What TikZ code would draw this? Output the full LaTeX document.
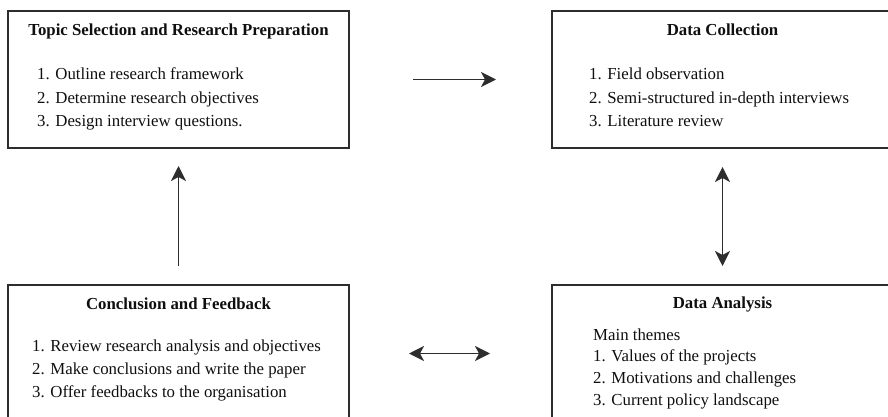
\documentclass[tikz,border=0pt]{standalone}
\usepackage{fontspec}
\setmainfont{Liberation Serif}
\usetikzlibrary{arrows.meta}
\definecolor{boxline}{RGB}{45,45,45}
\definecolor{inktext}{RGB}{15,15,15}

\tikzset{
  stagebox/.style={draw=boxline,line width=2pt,minimum width=341pt,minimum height=137pt,inner sep=0pt,anchor=north west},
  stagehead/.style={font=\fontsize{16.8}{20}\selectfont\bfseries,text=inktext,inner sep=0pt,anchor=base},
  stageitem/.style={font=\fontsize{16.8}{20}\selectfont,text=inktext,inner sep=0pt,anchor=base west},
  flow/.style={draw=boxline,line width=1.8pt,-{Stealth[length=15pt,width=15pt,inset=4pt]}},
  flowboth/.style={draw=boxline,line width=1.8pt,{Stealth[length=15pt,width=15pt,inset=4pt]}-{Stealth[length=15pt,width=15pt,inset=4pt]}}
}

\begin{document}
\begin{tikzpicture}[x=1pt,y=-1pt]
  \useasboundingbox (0,0) rectangle (888,417);
  \clip (0,0) rectangle (888,417);

  % the four stages
  \node[stagebox] (topic) at (7,10) {};
  \node[stagebox] (collect) at (551,10) {};
  \node[stagebox] (conclude) at (7,284) {};
  \node[stagebox] (analysis) at (551,284) {};

  \node[stagehead] (topic-h) at ([yshift=-26pt]topic.north) {Topic Selection and Research Preparation};
  \foreach \txt [count=\i] in {1. Outline research framework,2. Determine research objectives,3. Design interview questions.}
    \node[stageitem] (topic-\i) at ([xshift=30pt,yshift={-70pt-23.5pt*(\i-1)}]topic.north west) {\txt};

  \node[stagehead] (collect-h) at ([yshift=-26pt]collect.north) {Data Collection};
  \foreach \txt [count=\i] in {1. Field observation,2. Semi-structured in-depth interviews,3. Literature review}
    \node[stageitem] (collect-\i) at ([xshift=38pt,yshift={-70pt-23.5pt*(\i-1)}]collect.north west) {\txt};

  \node[stagehead] (conclude-h) at ([yshift=-25pt]conclude.north) {Conclusion and Feedback};
  \foreach \txt [count=\i] in {1. Review research analysis and objectives,2. Make conclusions and write the paper,3. Offer feedbacks to the organisation}
    \node[stageitem] (conclude-\i) at ([xshift=25pt,yshift={-67pt-23pt*(\i-1)}]conclude.north west) {\txt};

  \node[stagehead] (analysis-h) at ([yshift=-24pt]analysis.north) {Data Analysis};
  \foreach \txt [count=\i] in {Main themes,1. Values of the projects,2. Motivations and challenges,3. Current policy landscape}
    \node[stageitem] (analysis-\i) at ([xshift=42pt,yshift={-56pt-21.7pt*(\i-1)}]analysis.north west) {\txt};

  % connectors
  \draw[flow] ([xshift=63pt]topic.east) -- ([xshift=-55pt]collect.west);
  \draw[flowboth] ([yshift=-18pt]collect.south) -- ([yshift=18pt]analysis.north);
  \draw[flowboth] ([xshift=59pt]conclude.east) -- ([xshift=-61pt]analysis.west);
  \draw[flow] ([yshift=18pt]conclude.north) -- ([yshift=-17pt]topic.south);
\end{tikzpicture}
\end{document}
